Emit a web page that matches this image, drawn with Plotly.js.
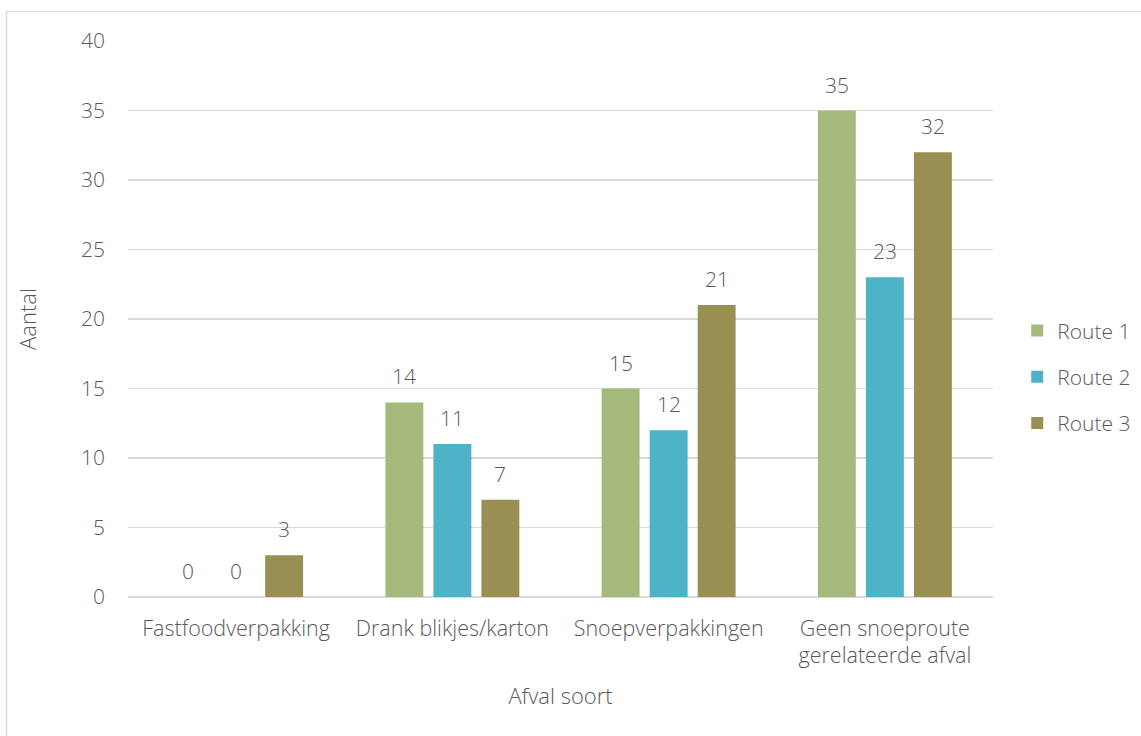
<!DOCTYPE html>
<html>
<head>
<meta charset="utf-8">
<script src="https://cdn.plot.ly/plotly-3.0.1.min.js"></script>
<style>html,body{margin:0;padding:0;background:#fff;}#chart{width:1141px;height:736px;}</style>
</head>
<body>
<div id="chart"></div>
<script>
const categories = ["Fastfoodverpakking", "Drank blikjes/karton", "Snoepverpakkingen", "Geen snoeproute<br>gerelateerde afval"];
const seriesNames = ["Route 1", "Route 2", "Route 3"];
const route1 = [0, 14, 15, 35];
const route2 = [0, 11, 12, 23];
const route3 = [3, 7, 21, 32];
const colors = ["#A5B97D", "#4FB3C8", "#998F53"];
const yTicks = [0, 5, 10, 15, 20, 25, 30, 35, 40];

const fam = "Open Sans, Noto Sans, sans-serif";
const grey = "#595959";
const values = [route1, route2, route3];
const data = values.map((v, i) => ({
  type: "bar",
  name: seriesNames[i],
  legendgroup: "g" + i,
  x: categories,
  y: v,
  marker: {color: colors[i]},
  hoverinfo: "none"
}));

// value labels above bars, from the data arrays
const annotations = [];
values.forEach((v, i) => {
  v.forEach((val, j) => {
    annotations.push({
      x: categories[j], y: val, xref: "x", yref: "y",
      text: String(val), showarrow: false,
      xanchor: "center", yanchor: "bottom",
      xshift: (i - 1) * 48, yshift: 10,
      font: {family: fam, size: 21, color: grey, weight: 300}
    });
  });
});

const layout = {
  width: 1141, height: 736,
  margin: {l: 128, r: 148, t: 41, b: 139, autoexpand: false},
  paper_bgcolor: "#fff", plot_bgcolor: "#fff",
  barmode: "group",
  bargap: 0.334,
  bargroupgap: 0.21,
  font: {family: fam, color: grey, size: 21, weight: 300},
  xaxis: {
    showgrid: false, zeroline: false, showline: false,
    tickfont: {size: 21.5, color: grey, weight: 300},
    ticks: "", ticklen: 0, ticklabelstandoff: 16,
    automargin: false,
    title: {text: "Afval soort", font: {size: 22, color: grey, weight: 300}, standoff: 20}
  },
  yaxis: {
    range: [0, 40],
    tickvals: yTicks,
    ticktext: yTicks.map(String),
    showgrid: true, gridcolor: "#D9D9D9", gridwidth: 1.3,
    zeroline: true, zerolinecolor: "#D9D9D9", zerolinewidth: 1.3,
    showline: false, ticks: "",
    ticklabelstandoff: 22,
    automargin: false,
    tickfont: {size: 21, color: grey, weight: 300},
    title: {text: "Aantal", font: {size: 22, color: grey, weight: 300}, standoff: 38}
  },
  legend: {
    x: 1.028, y: 0.396, xanchor: "left", yanchor: "middle",
    font: {size: 21, color: grey, weight: 300},
    tracegroupgap: 16, itemwidth: 30
  },
  annotations: annotations,
  shapes: [{
    type: "rect", xref: "paper", yref: "paper",
    x0: (6.5 - 128) / 865, x1: (1160 - 128) / 865,
    y0: 1 - (745 - 41) / 556, y1: 1 + (41 - 11.5) / 556,
    line: {color: "#D9D9D9", width: 1.3}, fillcolor: "rgba(0,0,0,0)", layer: "below"
  }]
};

Plotly.newPlot("chart", data, layout, {displayModeBar: false, staticPlot: true});
</script>
</body>
</html>
